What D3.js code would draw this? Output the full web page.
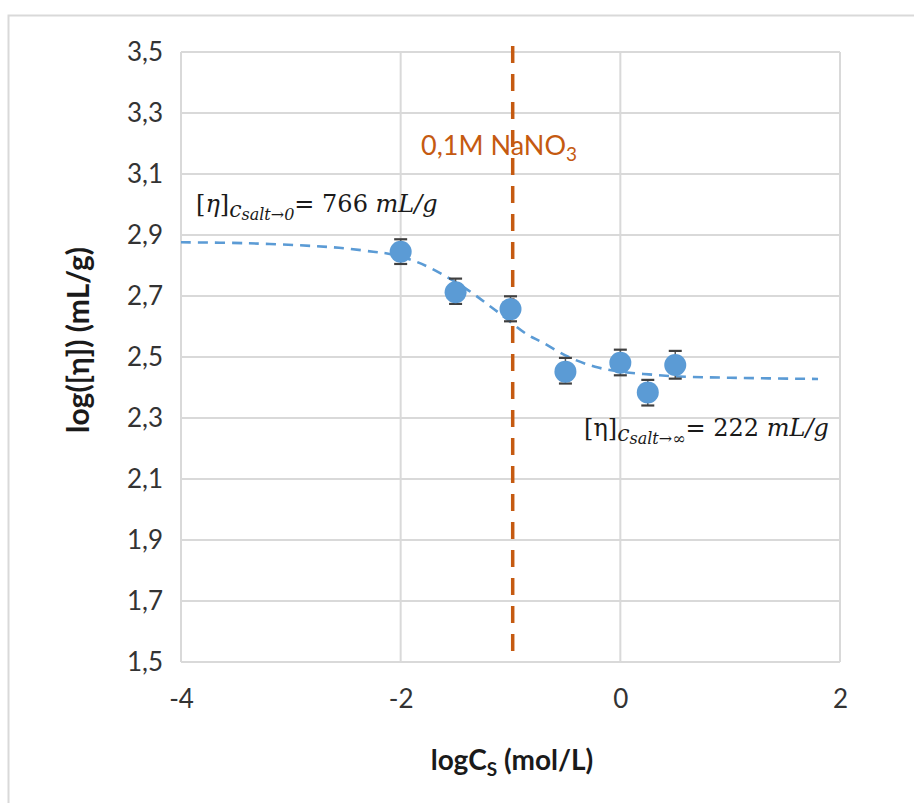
<!DOCTYPE html>
<html><head><meta charset="utf-8">
<script src="https://cdn.jsdelivr.net/npm/d3@7"></script>
<style>body{margin:0;background:#fff}svg{display:block}</style>
</head><body>
<svg id="chart" width="914" height="803"></svg>
<script>
// ---- data ----
const xTicks = [-4, -2, 0, 2];
const yTicks = [1.5, 1.7, 1.9, 2.1, 2.3, 2.5, 2.7, 2.9, 3.1, 3.3, 3.5];
const logCs = [-2, -1.5, -1, -0.5, 0, 0.25, 0.5];
const logEta = [2.845, 2.712, 2.657, 2.452, 2.481, 2.384, 2.474];
const errUp = [0.041, 0.045, 0.042, 0.045, 0.043, 0.041, 0.046];
const errDown = [0.040, 0.038, 0.040, 0.039, 0.041, 0.043, 0.045];
const fitX = [-4, -3.4, -2.8, -2.5, -2.25, -2.1, -1.9, -1.72, -1.41, -1.14, -0.84, -0.72, -0.47, -0.23, 0, 0.26, 0.53, 1.0, 1.8];
const fitY = [2.876, 2.873, 2.864, 2.856, 2.845, 2.838, 2.818, 2.79, 2.725, 2.654, 2.572, 2.55, 2.50, 2.468, 2.452, 2.443, 2.436, 2.432, 2.428];
const refLineX = -0.98;
const refLabel = "0,1M NaNO";
const xTitle = "logC";
const yTitle = "log([η]) (mL/g)";

// ---- layout ----
const svg = d3.select("#chart");
const L = 181, R = 840, T = 52, B = 662;
const x = d3.scaleLinear().domain([-4, 2]).range([L, R]);
const y = d3.scaleLinear().domain([1.5, 3.5]).range([B, T]);
const grid = "#d9d9d9";
const blue = "#5b9bd5";
const orange = "#c55a11";
const fmt = v => d3.format(".1f")(v).replace(".", ",");
const font = "Lato, 'Open Sans', sans-serif";

// outer chart border
svg.append("rect").attr("x", 8.5).attr("y", 15.5).attr("width", 930).attr("height", 820)
  .attr("fill", "none").attr("stroke", grid).attr("stroke-width", 2);

// gridlines
svg.append("g").selectAll("line").data(yTicks).join("line")
  .attr("x1", L).attr("x2", R).attr("y1", d => y(d)).attr("y2", d => y(d))
  .attr("stroke", grid).attr("stroke-width", 2);
svg.append("g").selectAll("line").data(xTicks).join("line")
  .attr("y1", T).attr("y2", B).attr("x1", d => x(d)).attr("x2", d => x(d))
  .attr("stroke", grid).attr("stroke-width", 2);

// axes (labels only)
const yAxis = d3.axisLeft(y).tickValues(yTicks).tickFormat(fmt).tickSize(0).tickPadding(18);
const gy = svg.append("g").attr("transform", `translate(${L},0)`).call(yAxis);
gy.select(".domain").remove();
gy.selectAll("text").attr("font-family", font).attr("font-size", 26).attr("fill", "#333");

const xAxis = d3.axisBottom(x).tickValues(xTicks).tickFormat(d => d3.format("d")(d).replace("−", "-")).tickSize(0).tickPadding(28);
const gx = svg.append("g").attr("transform", `translate(0,${B})`).call(xAxis);
gx.select(".domain").remove();
gx.selectAll("text").attr("font-family", font).attr("font-size", 26).attr("fill", "#333");

// vertical reference line
svg.append("line").attr("x1", x(refLineX)).attr("x2", x(refLineX))
  .attr("y1", T - 6).attr("y2", B - 2)
  .attr("stroke", orange).attr("stroke-width", 3.5).attr("stroke-dasharray", "17,11");

const ref = svg.append("text").attr("x", 421).attr("y", 155)
  .attr("font-family", font).attr("font-size", 27).attr("fill", orange);
ref.append("tspan").text(refLabel);
ref.append("tspan").attr("font-size", 19).attr("dy", 6).text("3");

// fitted curve
const line = d3.line().x((d, i) => x(fitX[i])).y((d, i) => y(fitY[i])).curve(d3.curveCatmullRom);
svg.append("path").datum(fitY).attr("d", line)
  .attr("fill", "none").attr("stroke", blue).attr("stroke-width", 2.6)
  .attr("stroke-dasharray", "10,7");

// error bars
const eb = svg.append("g");
logCs.forEach((c, i) => {
  const cx = x(c);
  const top = y(logEta[i] + errUp[i]), bot = y(logEta[i] - errDown[i]);
  eb.append("line").attr("x1", cx).attr("x2", cx).attr("y1", top).attr("y2", bot)
    .attr("stroke", "#595959").attr("stroke-width", 1.5);
  [top, bot].forEach(yy => eb.append("line").attr("x1", cx - 6.5).attr("x2", cx + 6.5)
    .attr("y1", yy).attr("y2", yy).attr("stroke", "#404040").attr("stroke-width", 2.2));
});

// markers
svg.append("g").selectAll("circle").data(logCs).join("circle")
  .attr("cx", d => x(d)).attr("cy", (d, i) => y(logEta[i])).attr("r", 11)
  .attr("fill", blue);

// annotations (math)
const mfont = "'DejaVu Serif', 'Liberation Serif', serif";
function annot(xp, yp, eta, sub, val) {
  const t = svg.append("text").attr("x", xp).attr("y", yp)
    .attr("font-family", mfont).attr("font-size", 24).attr("fill", "#1a1a1a");
  t.append("tspan").text("[");
  t.append("tspan").attr("font-style", eta.italic ? "italic" : "normal").text("η");
  t.append("tspan").text("]");
  t.append("tspan").attr("font-style", "italic").attr("dy", 5).attr("font-size", 22).text("c");
  t.append("tspan").attr("font-style", "italic").attr("dy", 3).attr("font-size", 16).text(sub);
  t.append("tspan").attr("dy", -8).text("= " + val + " ");
  t.append("tspan").attr("font-style", "italic").text("mL/g");
}
annot(196, 212, {italic: true}, "salt→0", "766");
annot(584, 436, {italic: false}, "salt→∞", "222");

// axis titles
const xt = svg.append("text").attr("x", 512).attr("y", 770).attr("text-anchor", "middle")
  .attr("font-family", font).attr("font-weight", "bold").attr("font-size", 28).attr("fill", "#1a1a1a");
xt.append("tspan").text(xTitle);
xt.append("tspan").attr("font-size", 19).attr("dy", 6).text("S");
xt.append("tspan").attr("dy", -6).text(" (mol/L)");

svg.append("text").attr("transform", "translate(89,340) rotate(-90)").attr("text-anchor", "middle")
  .attr("font-family", font).attr("font-weight", "bold").attr("font-size", 30).attr("fill", "#1a1a1a")
  .text(yTitle);
</script>
</body></html>
